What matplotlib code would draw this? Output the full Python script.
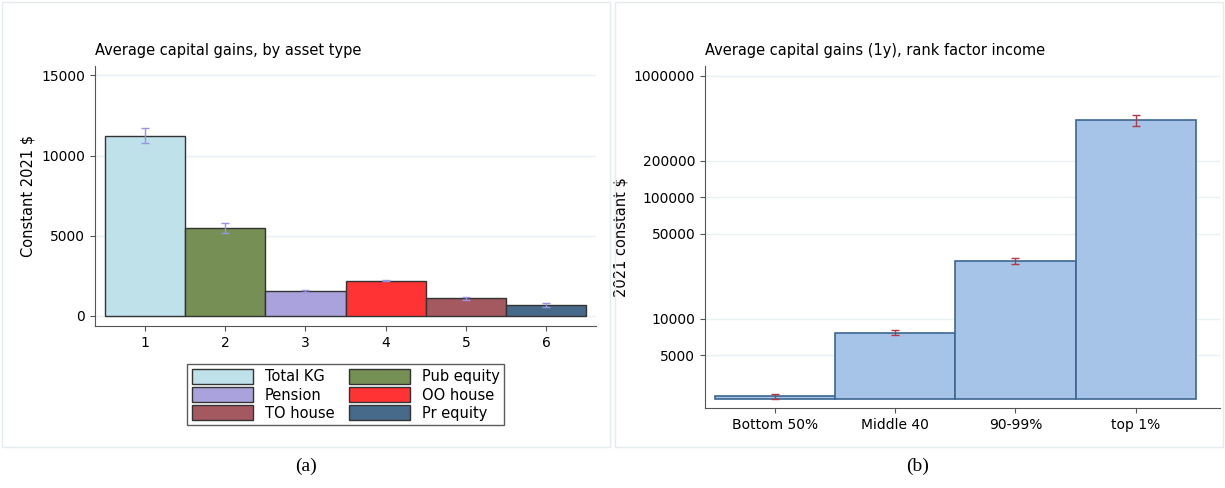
import numpy as np
import matplotlib.pyplot as plt
from matplotlib.patches import Rectangle

# panel (a)
asset_pos = [1, 2, 3, 4, 5, 6]
asset_names = ['Total KG', 'Pub equity', 'Pension', 'OO house', 'TO house', 'Pr equity']
asset_vals = [11250, 5500, 1560, 2190, 1100, 690]
asset_err = [480, 330, 40, 40, 90, 110]
asset_colors = ['#bfe1ea', '#768f55', '#a9a2dc', '#ff3333', '#a4585f', '#476a8a']

# panel (b)
groups = ['Bottom 50%', 'Middle 40', '90-99%', 'top 1%']
group_vals = [2300, 7650, 30000, 430000]
group_err = [120, 350, 1500, 45000]

plt.rcParams['font.family'] = 'DejaVu Sans'
fig = plt.figure(figsize=(12.25, 4.88), dpi=100)

# light panel frames
for x0 in [0.002, 0.502]:
    fig.patches.append(Rectangle((x0, 0.085), 0.496, 0.91, transform=fig.transFigure,
                                 fill=False, ec='#e4ecef', lw=1))

grid_c = '#e8f1f3'
ax1 = fig.add_axes([0.0776, 0.332, 0.409, 0.533])
ax1.bar(asset_pos, asset_vals, width=1, color=asset_colors, edgecolor='#333333', lw=1, zorder=2)
ax1.errorbar(asset_pos, asset_vals, yerr=asset_err, fmt='none', ecolor='#9a94e0',
             capsize=3, lw=1, zorder=3)
ax1.set_xlim(0.38, 6.62)
ax1.set_ylim(-625, 15600)
ax1.set_yticks([0, 5000, 10000, 15000])
ax1.set_xticks(asset_pos)
ax1.grid(axis='y', color=grid_c, lw=1, zorder=0)
ax1.set_ylabel('Constant 2021 $', fontsize=10.5)
ax1.set_title('Average capital gains, by asset type', loc='left', fontsize=10.5, pad=8)
handles = [Rectangle((0, 0), 1, 1, fc=c, ec='#333333') for c in asset_colors]
# row-wise order like the original legend
order = [0, 2, 4, 1, 3, 5]
ax1.legend([handles[i] for i in order], [asset_names[i] for i in order], ncol=2,
           loc='upper center', bbox_to_anchor=(0.5, -0.12),
           fancybox=False, edgecolor='#333333', fontsize=10.5, handlelength=4.2,
           handleheight=1.2, labelspacing=0.2, columnspacing=1.0, borderpad=0.3)

ax2 = fig.add_axes([0.5755, 0.164, 0.4205, 0.701])
ax2.set_yscale('log')
bottom = 2200
ax2.bar(range(4), [v - bottom for v in group_vals], bottom=bottom, width=1,
        color='#a6c3e8', edgecolor='#3d6690', lw=1.2, zorder=2)
ax2.errorbar(range(4), group_vals, yerr=group_err, fmt='none', ecolor='#b03a48',
             capsize=3, lw=1, zorder=3)
ax2.set_xlim(-0.58, 3.7)
ax2.set_ylim(1840, 1.21e6)
ticks = [5000, 10000, 50000, 100000, 200000, 1000000]
ax2.set_yticks(ticks)
ax2.set_yticklabels([str(t) for t in ticks])
ax2.minorticks_off()
ax2.set_xticks(range(4))
ax2.set_xticklabels(groups)
ax2.grid(axis='y', color=grid_c, lw=1, zorder=0)
ax2.set_ylabel('2021 constant $', fontsize=10.5)
ax2.set_title('Average capital gains (1y), rank factor income', loc='left', fontsize=10.5, pad=8)

for ax in [ax1, ax2]:
    ax.spines['top'].set_visible(False)
    ax.spines['right'].set_visible(False)
    ax.spines['left'].set_color('#555555')
    ax.spines['bottom'].set_color('#555555')
    ax.tick_params(labelsize=10, color='#555555')

fig.text(0.25, 0.035, '(a)', family='Liberation Serif', fontsize=14, ha='center')
fig.text(0.749, 0.035, '(b)', family='Liberation Serif', fontsize=14, ha='center')

fig.savefig('out.png', dpi=100)
